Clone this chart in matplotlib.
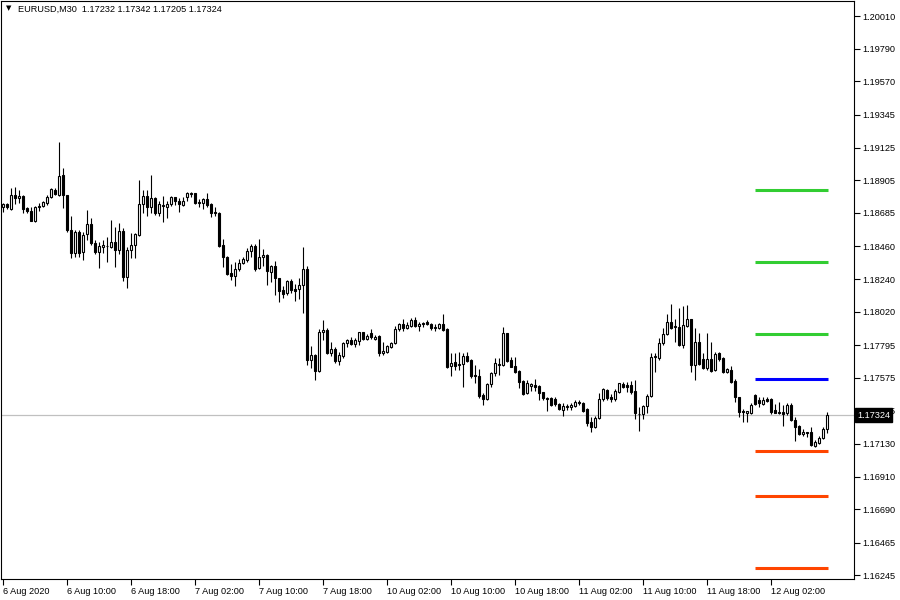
import numpy as np
import matplotlib
matplotlib.use('Agg')
import matplotlib.pyplot as plt

# EURUSD M30 candles, 6 Aug 2020 -> 12 Aug 2020
opens = [
    1.18727, 1.18745, 1.18711, 1.18803, 1.18783, 1.18799, 1.18716, 1.18698, 1.18633, 1.18723,
    1.18732, 1.18750, 1.18794, 1.18839, 1.18806, 1.18940, 1.18803, 1.18570, 1.18418, 1.18557,
    1.18424, 1.18541, 1.18608, 1.18480, 1.18424, 1.18458, 1.18465, 1.18458, 1.18487, 1.18436,
    1.18563, 1.18256, 1.18436, 1.18469, 1.18536, 1.18745, 1.18799, 1.18723, 1.18785, 1.18682,
    1.18738, 1.18727, 1.18745, 1.18792, 1.18765, 1.18736, 1.18794, 1.18812, 1.18817, 1.18750,
    1.18750, 1.18779, 1.18743, 1.18689, 1.18687, 1.18470, 1.18387, 1.18279, 1.18257, 1.18306,
    1.18351, 1.18369, 1.18429, 1.18463, 1.18313, 1.18387, 1.18402, 1.18290, 1.18328, 1.18245,
    1.18167, 1.18144, 1.18227, 1.18176, 1.18171, 1.18200, 1.18306, 1.17696, 1.17729, 1.17624,
    1.17880, 1.17898, 1.17745, 1.17768, 1.17685, 1.17723, 1.17808, 1.17830, 1.17803, 1.17826,
    1.17882, 1.17835, 1.17875, 1.17835, 1.17857, 1.17741, 1.17752, 1.17785, 1.17808, 1.17902,
    1.17938, 1.17909, 1.17925, 1.17965, 1.17925, 1.17947, 1.17951, 1.17938, 1.17907, 1.17909,
    1.17938, 1.17902, 1.17655, 1.17679, 1.17668, 1.17668, 1.17722, 1.17695, 1.17592, 1.17590,
    1.17459, 1.17430, 1.17531, 1.17605, 1.17664, 1.17659, 1.17874, 1.17695, 1.17655, 1.17623,
    1.17554, 1.17475, 1.17520, 1.17527, 1.17520, 1.17477, 1.17437, 1.17437, 1.17430, 1.17399,
    1.17359, 1.17381, 1.17381, 1.17385, 1.17415, 1.17408, 1.17365, 1.17280, 1.17242, 1.17302,
    1.17430, 1.17493, 1.17448, 1.17430, 1.17482, 1.17533, 1.17527, 1.17527, 1.17489, 1.17334,
    1.17332, 1.17385, 1.17453, 1.17713, 1.17706, 1.17807, 1.17870, 1.17953, 1.17915, 1.17919,
    1.17796, 1.17924, 1.17969, 1.17661, 1.17818, 1.17699, 1.17639, 1.17699, 1.17628, 1.17740,
    1.17706, 1.17616, 1.17628, 1.17556, 1.17444, 1.17352, 1.17341, 1.17341, 1.17459, 1.17426,
    1.17397, 1.17435, 1.17435, 1.17359, 1.17347, 1.17345, 1.17336, 1.17392, 1.17291, 1.17251,
    1.17197, 1.17208, 1.17213, 1.17116, 1.17134, 1.17168, 1.17232,
]
highs = [
    1.18750, 1.18750, 1.18850, 1.18857, 1.18839, 1.18803, 1.18727, 1.18727, 1.18734, 1.18754,
    1.18767, 1.18806, 1.18850, 1.18850, 1.19160, 1.18985, 1.18806, 1.18664, 1.18570, 1.18570,
    1.18559, 1.18705, 1.18649, 1.18503, 1.18492, 1.18503, 1.18521, 1.18637, 1.18593, 1.18615,
    1.18581, 1.18453, 1.18548, 1.18552, 1.18907, 1.18839, 1.18839, 1.18940, 1.18790, 1.18767,
    1.18799, 1.18765, 1.18799, 1.18794, 1.18783, 1.18794, 1.18828, 1.18828, 1.18821, 1.18776,
    1.18785, 1.18821, 1.18750, 1.18723, 1.18693, 1.18508, 1.18396, 1.18342, 1.18357, 1.18373,
    1.18387, 1.18447, 1.18476, 1.18476, 1.18508, 1.18440, 1.18405, 1.18335, 1.18364, 1.18248,
    1.18194, 1.18234, 1.18239, 1.18207, 1.18245, 1.18458, 1.18328, 1.17790, 1.17736, 1.17902,
    1.17965, 1.17909, 1.17819, 1.17785, 1.17752, 1.17819, 1.17835, 1.17853, 1.17842, 1.17886,
    1.17886, 1.17871, 1.17902, 1.17864, 1.17864, 1.17819, 1.17797, 1.17819, 1.17925, 1.17947,
    1.17969, 1.17954, 1.17976, 1.17983, 1.17954, 1.17949, 1.17965, 1.17947, 1.17938, 1.17943,
    1.18005, 1.17909, 1.17740, 1.17744, 1.17751, 1.17740, 1.17751, 1.17699, 1.17661, 1.17632,
    1.17475, 1.17538, 1.17616, 1.17706, 1.17706, 1.17915, 1.17877, 1.17717, 1.17717, 1.17628,
    1.17560, 1.17560, 1.17538, 1.17565, 1.17527, 1.17482, 1.17444, 1.17444, 1.17444, 1.17403,
    1.17403, 1.17399, 1.17403, 1.17426, 1.17426, 1.17415, 1.17370, 1.17314, 1.17318, 1.17471,
    1.17504, 1.17498, 1.17466, 1.17498, 1.17542, 1.17549, 1.17549, 1.17556, 1.17560, 1.17381,
    1.17392, 1.17466, 1.17740, 1.17740, 1.17841, 1.17908, 1.18005, 1.18072, 1.17969, 1.18043,
    1.18058, 1.18065, 1.17971, 1.17908, 1.17879, 1.17740, 1.17879, 1.17818, 1.17751, 1.17751,
    1.17717, 1.17639, 1.17655, 1.17565, 1.17448, 1.17363, 1.17354, 1.17403, 1.17466, 1.17444,
    1.17448, 1.17448, 1.17437, 1.17399, 1.17415, 1.17392, 1.17403, 1.17408, 1.17314, 1.17258,
    1.17228, 1.17213, 1.17246, 1.17157, 1.17184, 1.17246, 1.17342,
]
lows = [
    1.18693, 1.18709, 1.18705, 1.18745, 1.18750, 1.18687, 1.18687, 1.18631, 1.18626, 1.18700,
    1.18727, 1.18738, 1.18783, 1.18806, 1.18799, 1.18716, 1.18559, 1.18379, 1.18386, 1.18386,
    1.18368, 1.18503, 1.18469, 1.18409, 1.18312, 1.18413, 1.18357, 1.18447, 1.18319, 1.18409,
    1.18227, 1.18178, 1.18379, 1.18379, 1.18530, 1.18682, 1.18664, 1.18682, 1.18671, 1.18664,
    1.18626, 1.18649, 1.18732, 1.18738, 1.18693, 1.18732, 1.18767, 1.18794, 1.18745, 1.18727,
    1.18711, 1.18723, 1.18660, 1.18664, 1.18453, 1.18319, 1.18268, 1.18234, 1.18194, 1.18297,
    1.18342, 1.18357, 1.18387, 1.18297, 1.18306, 1.18328, 1.18200, 1.18223, 1.18133, 1.18088,
    1.18111, 1.18133, 1.18144, 1.18095, 1.18104, 1.18010, 1.17662, 1.17640, 1.17561, 1.17617,
    1.17830, 1.17736, 1.17723, 1.17673, 1.17662, 1.17707, 1.17781, 1.17797, 1.17785, 1.17797,
    1.17830, 1.17830, 1.17835, 1.17830, 1.17723, 1.17729, 1.17745, 1.17774, 1.17803, 1.17893,
    1.17893, 1.17902, 1.17916, 1.17920, 1.17893, 1.17916, 1.17931, 1.17898, 1.17893, 1.17902,
    1.17893, 1.17644, 1.17587, 1.17628, 1.17628, 1.17516, 1.17684, 1.17572, 1.17538, 1.17437,
    1.17392, 1.17426, 1.17511, 1.17587, 1.17594, 1.17655, 1.17684, 1.17646, 1.17605, 1.17504,
    1.17459, 1.17466, 1.17489, 1.17486, 1.17426, 1.17426, 1.17354, 1.17385, 1.17385, 1.17359,
    1.17318, 1.17359, 1.17359, 1.17376, 1.17392, 1.17347, 1.17251, 1.17213, 1.17235, 1.17296,
    1.17421, 1.17426, 1.17415, 1.17421, 1.17475, 1.17504, 1.17482, 1.17466, 1.17296, 1.17219,
    1.17296, 1.17341, 1.17448, 1.17616, 1.17695, 1.17796, 1.17863, 1.17901, 1.17818, 1.17789,
    1.17773, 1.17915, 1.17616, 1.17560, 1.17661, 1.17632, 1.17628, 1.17616, 1.17623, 1.17690,
    1.17605, 1.17605, 1.17542, 1.17415, 1.17314, 1.17280, 1.17280, 1.17332, 1.17392, 1.17381,
    1.17392, 1.17415, 1.17332, 1.17336, 1.17332, 1.17251, 1.17325, 1.17287, 1.17152, 1.17190,
    1.17184, 1.17179, 1.17116, 1.17112, 1.17130, 1.17161, 1.17205,
]
closes = [
    1.18745, 1.18723, 1.18806, 1.18783, 1.18799, 1.18711, 1.18698, 1.18633, 1.18727, 1.18732,
    1.18761, 1.18794, 1.18844, 1.18812, 1.18933, 1.18803, 1.18570, 1.18418, 1.18557, 1.18418,
    1.18536, 1.18608, 1.18480, 1.18424, 1.18462, 1.18467, 1.18462, 1.18487, 1.18436, 1.18563,
    1.18256, 1.18436, 1.18469, 1.18543, 1.18745, 1.18799, 1.18723, 1.18783, 1.18687, 1.18745,
    1.18732, 1.18745, 1.18794, 1.18767, 1.18745, 1.18765, 1.18821, 1.18821, 1.18750, 1.18756,
    1.18781, 1.18738, 1.18682, 1.18687, 1.18462, 1.18387, 1.18274, 1.18257, 1.18306, 1.18346,
    1.18373, 1.18429, 1.18463, 1.18306, 1.18387, 1.18402, 1.18297, 1.18328, 1.18245, 1.18162,
    1.18140, 1.18227, 1.18167, 1.18162, 1.18200, 1.18306, 1.17696, 1.17729, 1.17624, 1.17882,
    1.17898, 1.17745, 1.17768, 1.17685, 1.17729, 1.17808, 1.17830, 1.17803, 1.17830, 1.17880,
    1.17835, 1.17857, 1.17848, 1.17853, 1.17741, 1.17756, 1.17790, 1.17808, 1.17902, 1.17938,
    1.17907, 1.17931, 1.17965, 1.17927, 1.17938, 1.17938, 1.17938, 1.17907, 1.17920, 1.17938,
    1.17898, 1.17651, 1.17677, 1.17655, 1.17659, 1.17722, 1.17690, 1.17587, 1.17590, 1.17453,
    1.17430, 1.17531, 1.17605, 1.17673, 1.17666, 1.17874, 1.17690, 1.17650, 1.17616, 1.17549,
    1.17466, 1.17538, 1.17533, 1.17516, 1.17475, 1.17437, 1.17433, 1.17392, 1.17397, 1.17363,
    1.17385, 1.17381, 1.17392, 1.17415, 1.17403, 1.17354, 1.17273, 1.17242, 1.17302, 1.17430,
    1.17498, 1.17437, 1.17430, 1.17489, 1.17538, 1.17516, 1.17516, 1.17482, 1.17336, 1.17332,
    1.17385, 1.17453, 1.17717, 1.17722, 1.17807, 1.17870, 1.17953, 1.17908, 1.17924, 1.17796,
    1.17930, 1.17969, 1.17661, 1.17818, 1.17668, 1.17639, 1.17699, 1.17623, 1.17735, 1.17699,
    1.17616, 1.17632, 1.17549, 1.17448, 1.17347, 1.17347, 1.17350, 1.17392, 1.17397, 1.17403,
    1.17426, 1.17421, 1.17347, 1.17341, 1.17336, 1.17332, 1.17392, 1.17291, 1.17246, 1.17197,
    1.17213, 1.17204, 1.17123, 1.17145, 1.17168, 1.17228, 1.17324,
]

# pivot levels drawn on the right
resistance_levels = [1.18839, 1.18354, 1.17869]
pivot_level = 1.17566
support_levels = [1.17082, 1.16779, 1.16294]

price_ticks = [1.20010, 1.19790, 1.19570, 1.19345, 1.19125, 1.18905, 1.18685, 1.18460, 1.18240,
               1.18020, 1.17795, 1.17575, 1.17355, 1.17130, 1.16910, 1.16690, 1.16465, 1.16245]
time_labels = ['6 Aug 2020', '6 Aug 10:00', '6 Aug 18:00', '7 Aug 02:00', '7 Aug 10:00',
               '7 Aug 18:00', '10 Aug 02:00', '10 Aug 10:00', '10 Aug 18:00', '11 Aug 02:00',
               '11 Aug 10:00', '11 Aug 18:00', '12 Aug 02:00']
bars_per_label = 16

symbol = 'EURUSD,M30'


def draw_candles(ax, o, h, l, c):
    o, h, l, c = map(np.asarray, (o, h, l, c))
    idx = np.arange(len(o))
    up = c >= o
    bottom = np.minimum(o, c)
    height = np.maximum(np.abs(c - o), 0.000015)
    ax.vlines(idx, l, h, color='black', linewidth=0.8, zorder=2)
    ax.bar(idx[up], height[up], bottom=bottom[up], width=0.5, color='white',
           edgecolor='black', linewidth=0.8, zorder=3)
    ax.bar(idx[~up], height[~up], bottom=bottom[~up], width=0.5, color='black',
           edgecolor='black', linewidth=0.8, zorder=3)


plt.rcParams['font.family'] = ['Liberation Sans', 'DejaVu Sans']

fig = plt.figure(figsize=(9, 6), dpi=100)
ax = fig.add_axes([1 / 900, 21 / 600, 853 / 900, 578 / 600])

draw_candles(ax, opens, highs, lows, closes)

n = len(closes)
last = closes[-1]

# bid line
ax.axhline(last, color='#c0c0c0', linewidth=0.9, zorder=1)

# pivot levels over the last bars
x0, x1 = n - 19, n - 0.6
for lvl in resistance_levels:
    ax.hlines(lvl, x0, x1, color='#32cd32', linewidth=2.2, zorder=4)
ax.hlines(pivot_level, x0, x1, color='#0000ff', linewidth=2.2, zorder=4)
for lvl in support_levels:
    ax.hlines(lvl, x0, x1, color='#ff4500', linewidth=2.2, zorder=4)

ax.set_xlim(-0.45, 212.8)
ax.set_ylim(1.16221, 1.20111)

ax.yaxis.tick_right()
ax.set_yticks(price_ticks)
ax.set_yticklabels([f'{t:.5f}' for t in price_ticks])
ax.tick_params(axis='y', direction='out', length=4, width=0.8, pad=2, labelsize=6.6)

xt = np.arange(0, n, bars_per_label)
ax.set_xticks(xt)
ax.set_xticklabels(time_labels[:len(xt)])
ax.tick_params(axis='x', direction='out', length=4, width=0.8, pad=2, labelsize=6.6)
for lab in ax.get_xticklabels():
    lab.set_horizontalalignment('left')

for sp in ax.spines.values():
    sp.set_linewidth(0.8)

# current price box on the right axis
ax.text(1.0035, last, f'{last:.5f}', transform=ax.get_yaxis_transform(),
        ha='left', va='center', fontsize=6.6, color='white', zorder=10,
        bbox=dict(boxstyle='square,pad=0.25', fc='black', ec='black'), clip_on=False)

# header
hdr = f'{symbol}  {opens[-1]:.5f} {highs[-1]:.5f} {lows[-1]:.5f} {closes[-1]:.5f}'
ax.text(0.006, 0.992, '\u25bc', transform=ax.transAxes, ha='left', va='top',
        fontsize=5, family='DejaVu Sans')
ax.text(0.02, 0.993, hdr, transform=ax.transAxes, ha='left', va='top', fontsize=6.6)

fig.savefig('out.png', dpi=100)
